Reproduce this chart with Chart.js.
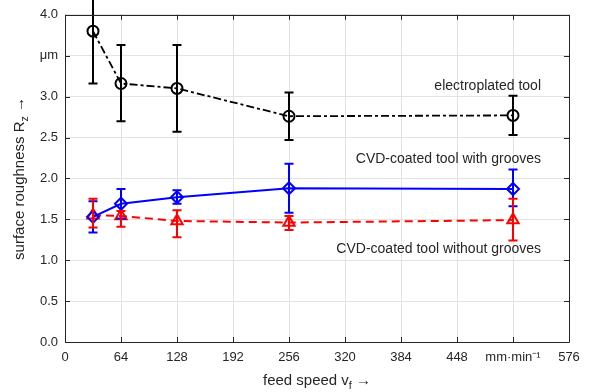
<!DOCTYPE html>
<html>
<head>
<meta charset="utf-8">
<script src="https://cdn.jsdelivr.net/npm/chart.js@4.4.1/dist/chart.umd.min.js"></script>
<style>
html,body{margin:0;padding:0;background:#fff;}
#wrap{width:589px;height:392px;position:relative;}
</style>
</head>
<body>
<div id="wrap"><canvas id="c" width="589" height="392"></canvas></div>
<script>
// ---- data ----
const feedSpeeds = [32, 64, 128, 256, 512];

const electroplatedMean = [3.80, 3.16, 3.10, 2.76, 2.77];
const electroplatedLow  = [3.16, 2.70, 2.57, 2.47, 2.53];
const electroplatedHigh = [4.44, 3.63, 3.63, 3.05, 3.01];

const groovesMean = [1.53, 1.69, 1.77, 1.88, 1.87];
const groovesLow  = [1.34, 1.51, 1.69, 1.58, 1.66];
const groovesHigh = [1.72, 1.87, 1.855, 2.18, 2.11];

const noGroovesMean = [1.55, 1.54, 1.48, 1.46, 1.49];
const noGroovesLow  = [1.40, 1.41, 1.28, 1.37, 1.24];
const noGroovesHigh = [1.75, 1.60, 1.61, 1.54, 1.75];

const xTickValues = [0, 64, 128, 192, 256, 320, 384, 448, 512, 576];
const xTickLabels = ['0', '64', '128', '192', '256', '320', '384', '448', 'mm\u00B7min\u207B\u00B9', '576'];
const yTickValues = [0, 0.5, 1, 1.5, 2, 2.5, 3, 3.5, 4];
const yTickLabels = ['0.0', '0.5', '1.0', '1.5', '2.0', '2.5', '3.0', '\u03BCm', '4.0'];

const seriesNames = ['electroplated tool', 'CVD-coated tool with grooves', 'CVD-coated tool without grooves'];
const annotationAnchors = [[544, 3.13], [544, 2.24], [544, 1.14]];

const xTitle = ['feed speed v', 'f', ' \u2192'];
const yTitle = ['surface roughness R', 'z', ' \u2192'];

// ---- styles ----
const FONT = '"Liberation Sans", Arial, Helvetica, sans-serif';
const TXT = '#262626';
const AXIS = '#262626';
const GRID = '#e3e3e3';

function pts(ys){ return feedSpeeds.map((x,i)=>({x:x, y:ys[i]})); }

const errSets = [
  {low: electroplatedLow, high: electroplatedHigh, color: '#000000', w: 2},
  {low: groovesLow, high: groovesHigh, color: '#0000ff', w: 2},
  {low: noGroovesLow, high: noGroovesHigh, color: '#ff0000', w: 2}
];

const errorBarPlugin = {
  id: 'errorBars',
  afterDatasetsDraw(chart){
    const ctx = chart.ctx, xs = chart.scales.x, ys = chart.scales.y;
    ctx.save();
    errSets.forEach(s=>{
      ctx.strokeStyle = s.color; ctx.lineWidth = s.w; ctx.setLineDash([]);
      feedSpeeds.forEach((v,i)=>{
        const px = xs.getPixelForValue(v);
        const pt = ys.getPixelForValue(s.high[i]);
        const pb = ys.getPixelForValue(s.low[i]);
        ctx.beginPath();
        ctx.moveTo(px, pt); ctx.lineTo(px, pb);
        ctx.moveTo(px-4.5, pt); ctx.lineTo(px+4.5, pt);
        ctx.moveTo(px-4.5, pb); ctx.lineTo(px+4.5, pb);
        ctx.stroke();
      });
    });
    ctx.restore();
  }
};

function drawSubText(ctx, parts, x, y, size){
  ctx.font = size + 'px ' + FONT;
  const w0 = ctx.measureText(parts[0]).width;
  ctx.font = (size*0.72) + 'px ' + FONT;
  const w1 = ctx.measureText(parts[1]).width;
  ctx.font = size + 'px ' + FONT;
  const w2 = ctx.measureText(parts[2]).width;
  const total = w0 + w1 + w2;
  let cx = x - total/2;
  ctx.textAlign = 'left'; ctx.textBaseline = 'middle';
  ctx.fillText(parts[0], cx, y); cx += w0;
  ctx.font = (size*0.72) + 'px ' + FONT;
  ctx.fillText(parts[1], cx, y + size*0.35); cx += w1;
  ctx.font = size + 'px ' + FONT;
  ctx.fillText(parts[2], cx, y);
}

const framePlugin = {
  id: 'frame',
  afterDraw(chart){
    const ctx = chart.ctx, a = chart.chartArea, xs = chart.scales.x, ys = chart.scales.y;
    ctx.save();
    ctx.strokeStyle = AXIS; ctx.lineWidth = 1; ctx.setLineDash([]);
    ctx.beginPath();
    ctx.rect(Math.round(a.left)+0.5, Math.round(a.top)+0.5, Math.round(a.right-a.left), Math.round(a.bottom-a.top));
    ctx.stroke();
    ctx.beginPath();
    xTickValues.forEach(v=>{
      const p = Math.round(xs.getPixelForValue(v))+0.5;
      ctx.moveTo(p, a.bottom); ctx.lineTo(p, a.bottom-5);
      ctx.moveTo(p, a.top); ctx.lineTo(p, a.top+5);
    });
    yTickValues.forEach(v=>{
      const p = Math.round(ys.getPixelForValue(v))+0.5;
      ctx.moveTo(a.left, p); ctx.lineTo(a.left+5, p);
      ctx.moveTo(a.right, p); ctx.lineTo(a.right-5, p);
    });
    ctx.stroke();
    // annotations
    ctx.fillStyle = TXT;
    ctx.font = '14px ' + FONT;
    ctx.textAlign = 'right'; ctx.textBaseline = 'middle';
    seriesNames.forEach((n,i)=>{
      ctx.fillText(n, xs.getPixelForValue(annotationAnchors[i][0]), ys.getPixelForValue(annotationAnchors[i][1]));
    });
    // axis titles
    drawSubText(ctx, xTitle, (a.left+a.right)/2, 381, 15);
    ctx.save();
    ctx.translate(20, (a.top+a.bottom)/2);
    ctx.rotate(-Math.PI/2);
    drawSubText(ctx, yTitle, 0, 0, 15);
    ctx.restore();
    ctx.restore();
  }
};

new Chart(document.getElementById('c'), {
  type: 'line',
  data: {
    datasets: [
      {label: seriesNames[0], data: pts(electroplatedMean), borderColor: '#000000', backgroundColor: 'rgba(0,0,0,0)',
       borderWidth: 1.8, borderDash: [8,3,3,3], pointStyle: 'circle', pointRadius: 5.5, pointBorderWidth: 2,
       pointBorderColor: '#000000', pointBackgroundColor: 'rgba(0,0,0,0)'},
      {label: seriesNames[1], data: pts(groovesMean), borderColor: '#0000ff', backgroundColor: 'rgba(0,0,0,0)',
       borderWidth: 2, pointStyle: 'rectRot', pointRadius: 6, pointBorderWidth: 2,
       pointBorderColor: '#0000ff', pointBackgroundColor: 'rgba(0,0,0,0)'},
      {label: seriesNames[2], data: pts(noGroovesMean), borderColor: '#ff0000', backgroundColor: 'rgba(0,0,0,0)',
       borderWidth: 2, borderDash: [8,5], pointStyle: 'triangle', pointRadius: 6.5, pointBorderWidth: 2,
       pointBorderColor: '#ff0000', pointBackgroundColor: 'rgba(0,0,0,0)'}
    ]
  },
  options: {
    responsive: false,
    animation: false,
    devicePixelRatio: 1,
    layout: {padding: {left: 0, right: 20, top: 10, bottom: 0}},
    plugins: {legend: {display: false}, tooltip: {enabled: false}, title: {display: false}},
    elements: {line: {tension: 0}},
    scales: {
      x: {
        type: 'linear', min: 0, max: 576,
        afterBuildTicks(s){ s.ticks = xTickValues.map(v=>({value:v})); },
        afterFit(s){ s.height = 50; },
        grid: {color: GRID, lineWidth: 1, drawTicks: false},
        border: {display: false},
        ticks: {
          padding: 8, color: TXT, font: {family: FONT, size: 13}, maxRotation: 0, autoSkip: false,
          callback(v){ const i = xTickValues.indexOf(v); return i >= 0 ? xTickLabels[i] : ''; }
        }
      },
      y: {
        type: 'linear', min: 0, max: 4,
        afterBuildTicks(s){ s.ticks = yTickValues.map(v=>({value:v})); },
        afterFit(s){ s.width = 65; },
        grid: {color: GRID, lineWidth: 1, drawTicks: false},
        border: {display: false},
        ticks: {
          padding: 7, color: TXT, font: {family: FONT, size: 13},
          callback(v){ const i = yTickValues.indexOf(v); return i >= 0 ? yTickLabels[i] : ''; }
        }
      }
    }
  },
  plugins: [errorBarPlugin, framePlugin]
});
</script>
</body>
</html>
